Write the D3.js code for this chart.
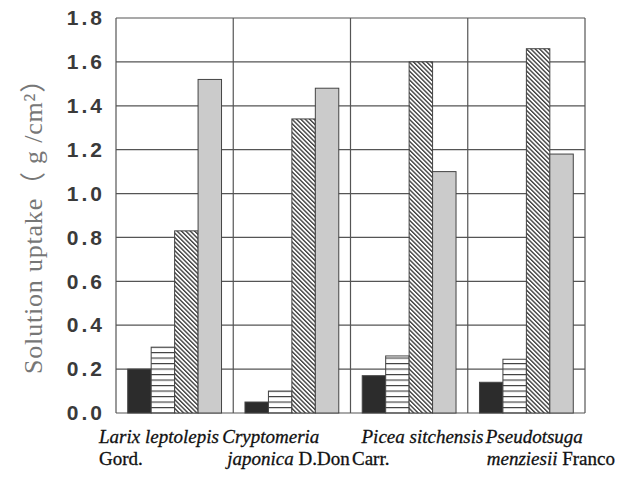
<!DOCTYPE html>
<html>
<head>
<meta charset="utf-8">
<script src="https://cdn.jsdelivr.net/npm/d3@7"></script>
<style>
  body { margin: 0; background: #fff; }
  svg { display: block; }
</style>
</head>
<body>
<div id="chart"></div>
<script>
// categories (tree species)
var species = ["Larix leptolepis", "Cryptomeria japonica", "Picea sitchensis", "Pseudotsuga menziesii"];
var seriesNames = ["s1", "s2", "s3", "s4"];

// solution uptake (g/cm2) per series
var seriesS1 = [0.20, 0.05, 0.17, 0.14];
var seriesS2 = [0.30, 0.10, 0.26, 0.245];
var seriesS3 = [0.83, 1.34, 1.60, 1.66];
var seriesS4 = [1.52, 1.48, 1.10, 1.18];

var yTicks = [0, 0.2, 0.4, 0.6, 0.8, 1.0, 1.2, 1.4, 1.6, 1.8];

// two lines of label text under each group : [text, italic]
var labelLine1 = [
  [["Larix leptolepis", true]],
  [["Cryptomeria", true]],
  [["Picea sitchensis", true]],
  [["Pseudotsuga", true]]
];
var labelLine2 = [
  [["Gord.", false]],
  [["japonica", true], [" D.Don", false]],
  [["Carr.", false]],
  [["menziesii", true], [" Franco", false]]
];
// horizontal nudges of the labels from the group start (layout only)
var labelDx1 = [-17, -11, 11, 18];
var labelDx2 = [-17, -6, 1.5, 19];

var allSeries = [seriesS1, seriesS2, seriesS3, seriesS4];

var w = 634, h = 477;
var margin = {top: 18, right: 49, bottom: 64, left: 116};

var svg = d3.select("#chart").append("svg")
  .attr("width", w)
  .attr("height", h);

// patterns
var defs = svg.append("defs");

var ph = defs.append("pattern")
  .attr("id", "hlines")
  .attr("patternUnits", "userSpaceOnUse")
  .attr("width", 6).attr("height", 5.5);
ph.append("rect").attr("width", 6).attr("height", 5.5).attr("fill", "#fff");
ph.append("line").attr("x1", 0).attr("x2", 6).attr("y1", 0.6).attr("y2", 0.6)
  .attr("stroke", "#333").attr("stroke-width", 1.1);

var pd = defs.append("pattern")
  .attr("id", "diag")
  .attr("patternUnits", "userSpaceOnUse")
  .attr("width", 3.1).attr("height", 3.1)
  .attr("patternTransform", "rotate(-45)");
pd.append("rect").attr("width", 3.1).attr("height", 3.1).attr("fill", "#fff");
pd.append("line").attr("x1", 0.7).attr("x2", 0.7).attr("y1", 0).attr("y2", 3.1)
  .attr("stroke", "#333").attr("stroke-width", 1.3);

var fills = ["#2c2c2c", "url(#hlines)", "url(#diag)", "#cbcbcb"];

// scales
var x0 = d3.scaleBand()
  .domain(species)
  .range([margin.left, w - margin.right])
  .padding(0);

var x1 = d3.scaleBand()
  .domain(seriesNames)
  .range([0, x0.bandwidth()])
  .paddingInner(0)
  .paddingOuter(0.5);

var y = d3.scaleLinear()
  .domain([0, 1.8])
  .range([h - margin.bottom, margin.top]);

var grid = svg.append("g");

// horizontal grid lines
grid.selectAll("line.hg")
  .data(yTicks)
  .enter()
  .append("line")
  .attr("class", "hg")
  .attr("x1", margin.left)
  .attr("x2", w - margin.right)
  .attr("y1", function(d){ return y(d); })
  .attr("y2", function(d){ return y(d); })
  .attr("stroke", "#555")
  .attr("stroke-width", 1.2);

// vertical separators between groups
var xs = species.map(function(s){ return x0(s); }).concat([w - margin.right]);
grid.selectAll("line.vg")
  .data(xs)
  .enter()
  .append("line")
  .attr("class", "vg")
  .attr("x1", function(d){ return d; })
  .attr("x2", function(d){ return d; })
  .attr("y1", margin.top)
  .attr("y2", h - margin.bottom)
  .attr("stroke", "#555")
  .attr("stroke-width", 1.2);

// bars
var groups = svg.append("g").selectAll("g")
  .data(species)
  .enter()
  .append("g")
  .attr("transform", function(d){ return "translate(" + x0(d) + ",0)"; });

groups.selectAll("rect")
  .data(function(d, i){
    return seriesNames.map(function(s, j){ return {s: s, j: j, v: allSeries[j][i]}; });
  })
  .enter()
  .append("rect")
  .attr("x", function(d){ return x1(d.s); })
  .attr("width", x1.bandwidth())
  .attr("y", function(d){ return y(d.v); })
  .attr("height", function(d){ return y(0) - y(d.v); })
  .attr("fill", function(d){ return fills[d.j]; })
  .attr("stroke", "#444")
  .attr("stroke-width", 1);

// y axis labels
var yAxis = d3.axisLeft(y)
  .tickValues(yTicks)
  .tickFormat(d3.format(".1f"))
  .tickSize(0)
  .tickPadding(11);

var ya = svg.append("g")
  .attr("transform", "translate(" + margin.left + ",0)")
  .call(yAxis);
ya.select(".domain").remove();
ya.selectAll("text")
  .style("font-family", "'Liberation Sans', Arial, sans-serif")
  .style("font-size", "21px")
  .style("font-weight", "bold")
  .style("letter-spacing", "3px")
  .attr("fill", "#3a3a3a");

// y title
svg.append("text")
  .attr("transform", "translate(42,220) rotate(-90)")
  .attr("text-anchor", "middle")
  .style("font-family", "'Liberation Serif', 'Times New Roman', 'Noto Sans CJK JP', serif")
  .style("font-size", "26px")
  .style("letter-spacing", "0.8px")
  .attr("fill", "#777")
  .text("Solution uptake\uFF08 g /cm\u00B2\uFF09");

// x labels
function addLine(lines, dxs, yy){
  svg.append("g").selectAll("text")
    .data(species)
    .enter()
    .append("text")
    .attr("x", function(d, i){ return x0(d) + dxs[i]; })
    .attr("y", yy)
    .style("font-family", "'Liberation Serif', 'Times New Roman', serif")
    .style("font-size", "19px")
    .attr("fill", "#111")
    .attr("stroke", "#111")
    .attr("stroke-width", 0.3)
    .each(function(d, i){
      var t = d3.select(this);
      lines[i].forEach(function(p){
        t.append("tspan")
          .style("font-style", p[1] ? "italic" : "normal")
          .text(p[0]);
      });
    });
}
addLine(labelLine1, labelDx1, 443);
addLine(labelLine2, labelDx2, 465);
</script>
</body>
</html>
